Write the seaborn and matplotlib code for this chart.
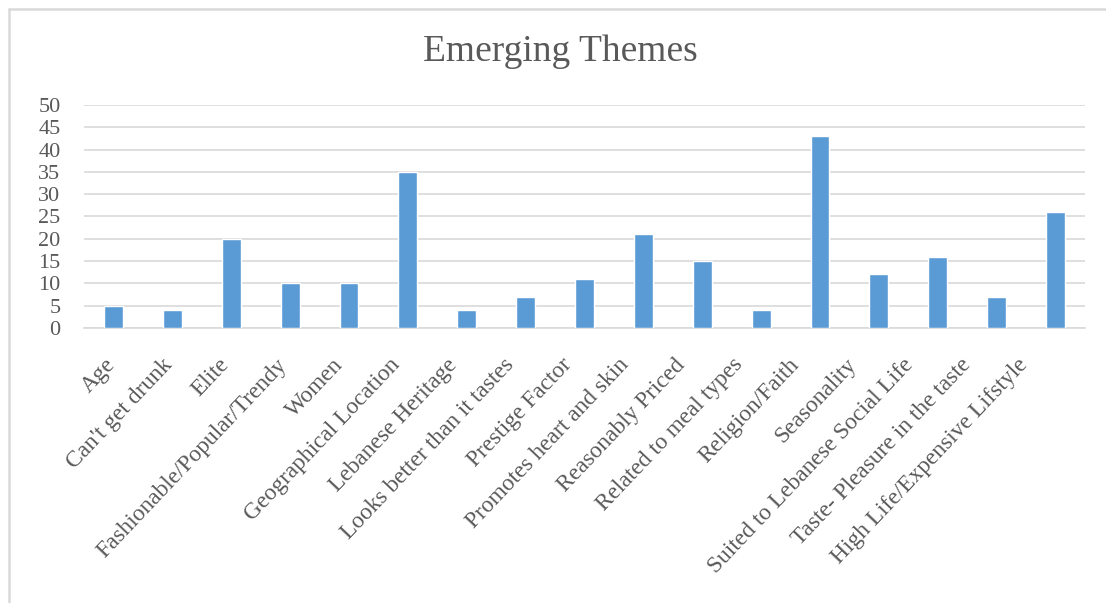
import matplotlib
matplotlib.use("Agg")
import matplotlib.pyplot as plt
import matplotlib.transforms as mtransforms
import seaborn as sns
import pandas as pd
from matplotlib.lines import Line2D

categories = ["Age", "Can't get drunk", "Elite", "Fashionable/Popular/Trendy", "Women",
              "Geographical Location", "Lebanese Heritage", "Looks better than it tastes",
              "Prestige Factor", "Promotes heart and skin", "Reasonably Priced",
              "Related to meal types", "Religion/Faith", "Seasonality",
              "Suited to Lebanese Social Life", "Taste- Pleasure in the taste",
              "High Life/Expensive Lifstyle"]
values = [5, 4, 20, 10, 10, 35, 4, 7, 11, 21, 15, 4, 43, 12, 16, 7, 26]
y_ticks = [0, 5, 10, 15, 20, 25, 30, 35, 40, 45, 50]

sns.set_theme(style="white")
plt.rcParams['font.family'] = ['Liberation Serif', 'DejaVu Serif']

df = pd.DataFrame({"theme": categories, "count": values})

fig = plt.figure(figsize=(11.06, 6.03), dpi=100)
ax = fig.add_axes([0.076, 0.456, 0.905, 0.370])
sns.barplot(data=df, x="theme", y="count", color="#5B9BD5", width=0.32,
            saturation=1, ax=ax, zorder=3)
ax.set_ylim(0, 50)
ax.set_yticks(y_ticks)
ax.yaxis.grid(True, color="#D9D9D9", linewidth=1.2, zorder=0)
ax.set_axisbelow(True)
for s in ["top", "right", "left"]:
    ax.spines[s].set_visible(False)
ax.spines["bottom"].set_color("#D9D9D9")
ax.spines["bottom"].set_linewidth(1.2)
ax.set_xlabel("")
ax.set_ylabel("")
ax.tick_params(axis="both", length=0, colors="#595959")
ax.tick_params(axis="y", pad=17, labelsize=16)
ax.tick_params(axis="x", pad=19, labelsize=16.8)
labels = ax.get_xticklabels()
n = len(labels)
for i, lbl in enumerate(labels):
    dx = -9 - 30 * i / (n - 1)
    shift = mtransforms.ScaledTranslation(dx / 100, 0, fig.dpi_scale_trans)
    lbl.set_rotation(46.5)
    lbl.set_ha("right")
    lbl.set_rotation_mode("anchor")
    lbl.set_transform(lbl.get_transform() + shift)
fig.text(0.507, 0.915, "Emerging Themes", fontsize=27, color="#595959",
         ha="center", va="center")

# chart-area frame: only top and left edges visible (cropped on right/bottom)
x0 = 8.5 / 1106
y0 = 1 - 8.5 / 603
fig.add_artist(Line2D([x0, 1.0], [y0, y0], transform=fig.transFigure,
                      color="#D9D9D9", linewidth=1.8))
fig.add_artist(Line2D([x0, x0], [0.0, y0], transform=fig.transFigure,
                      color="#D9D9D9", linewidth=1.8))
fig.savefig("out.png", dpi=100)
